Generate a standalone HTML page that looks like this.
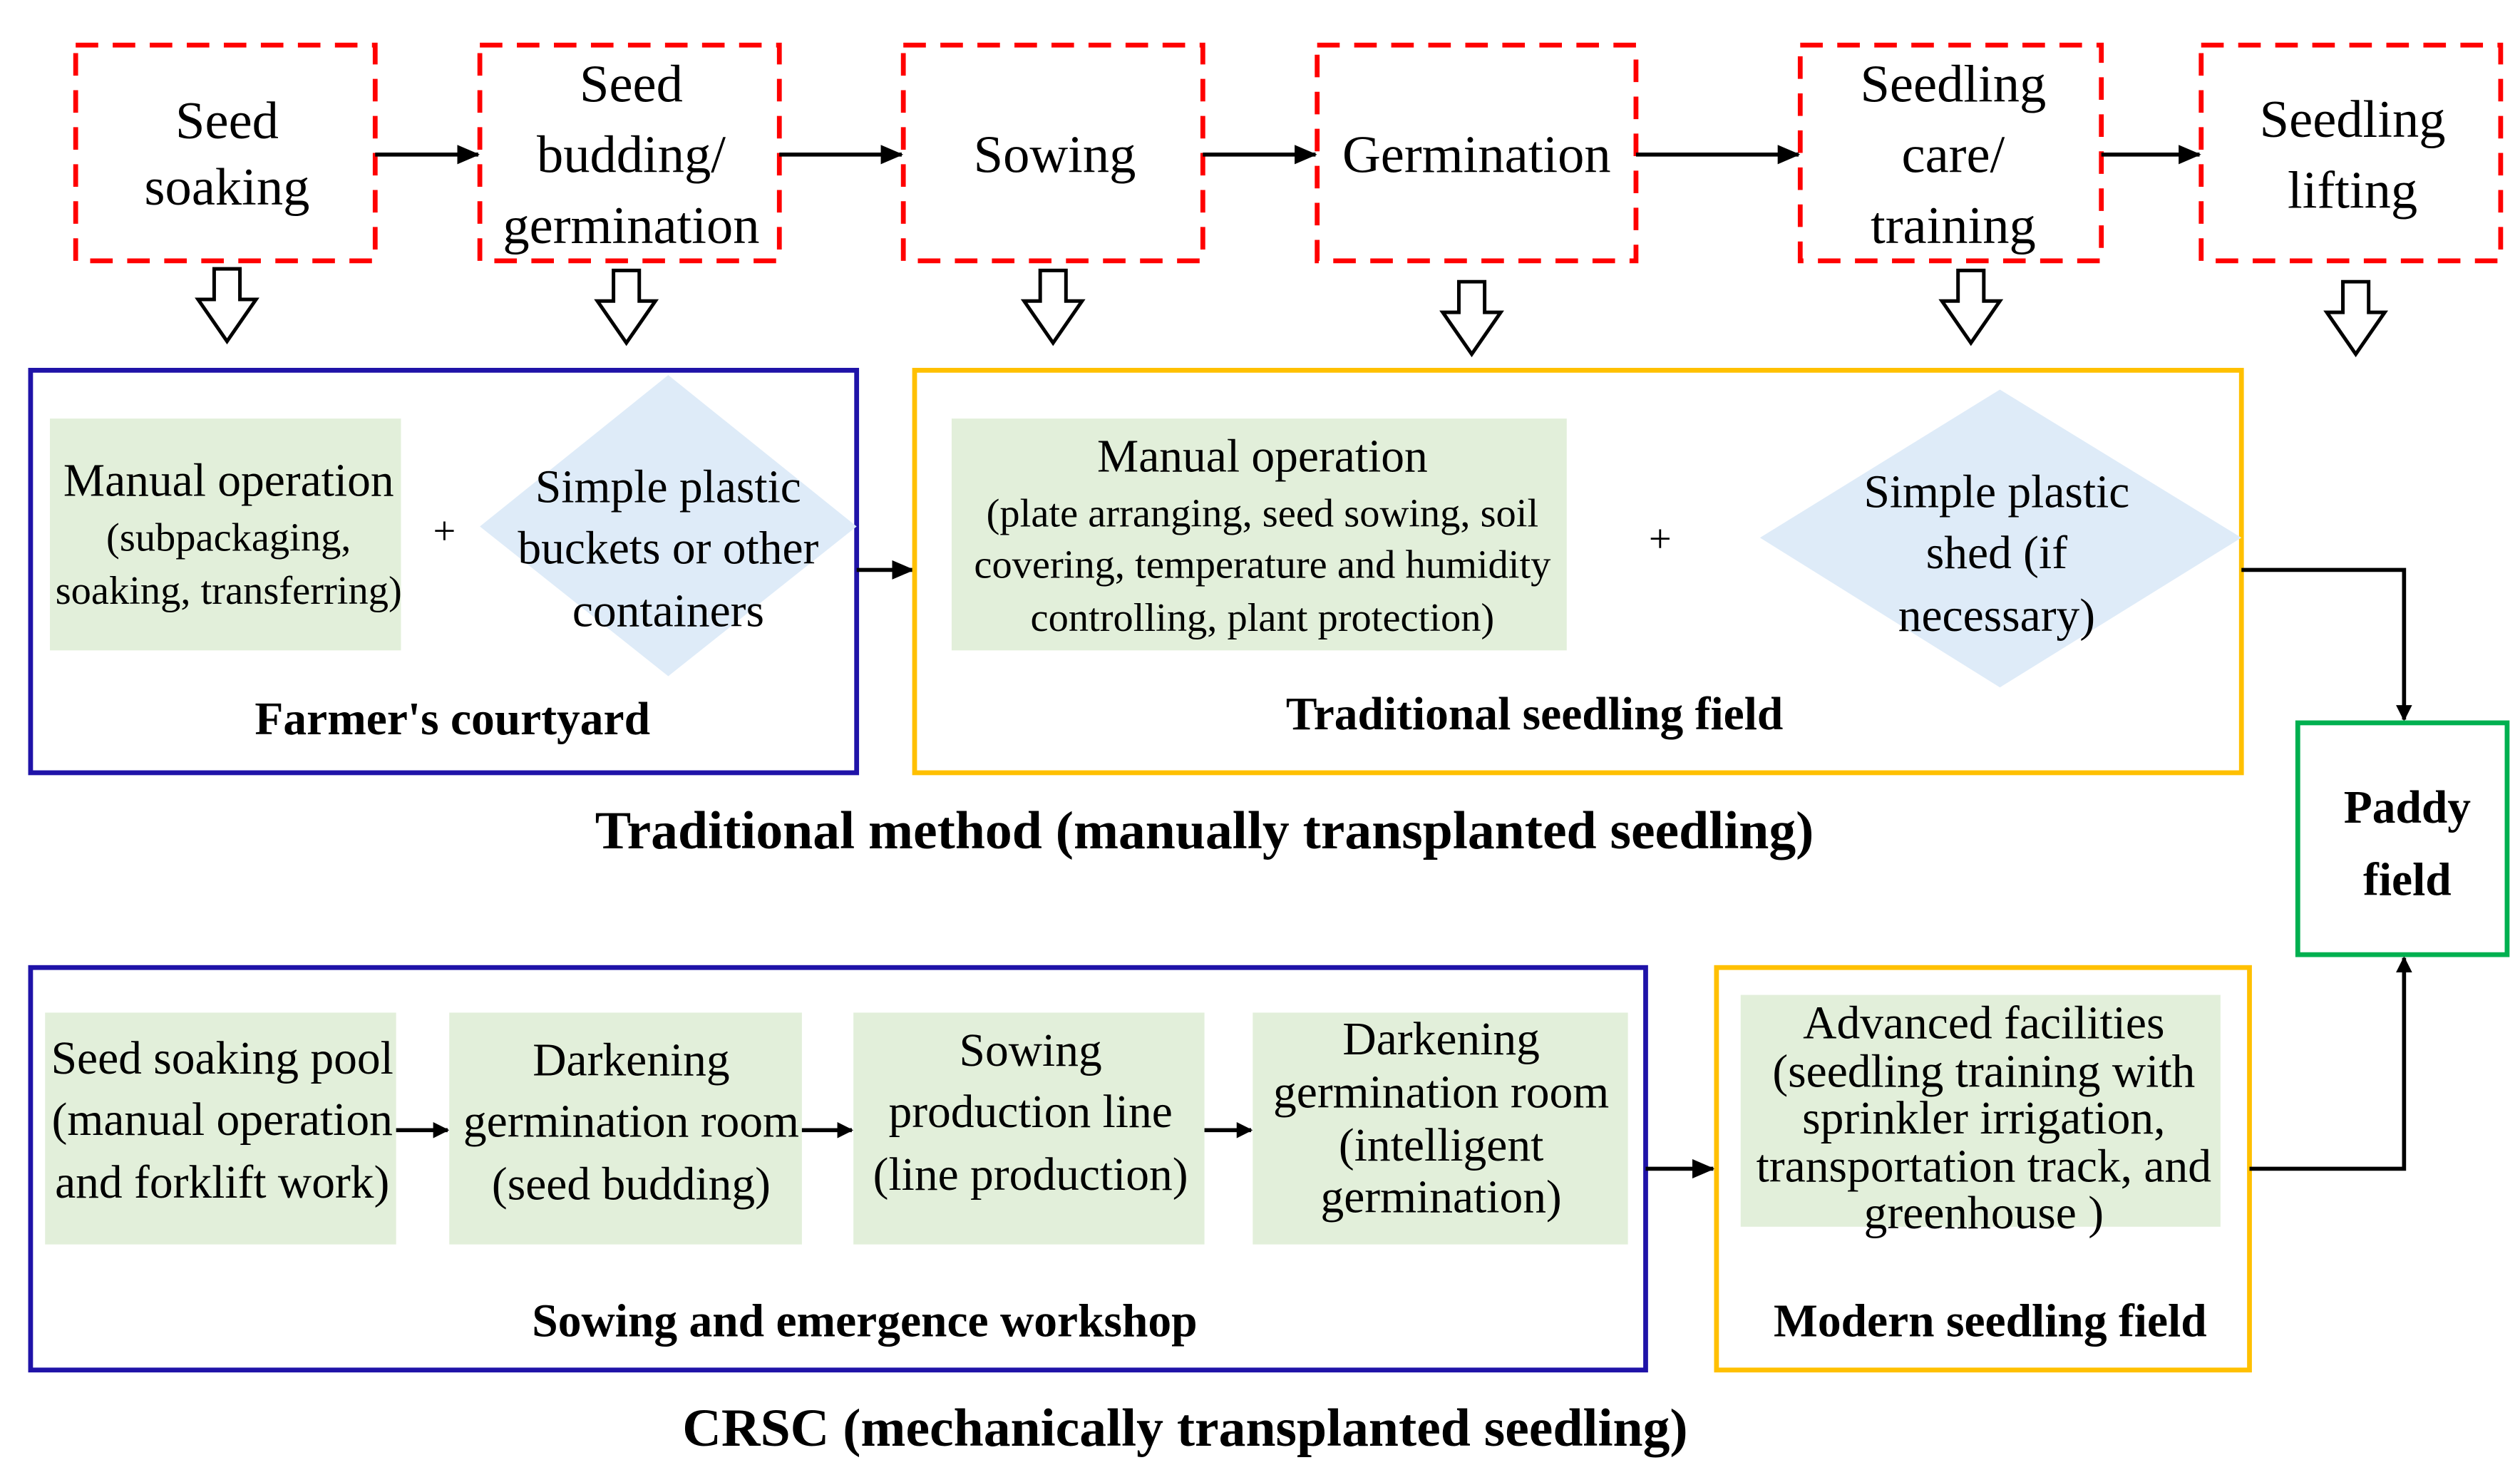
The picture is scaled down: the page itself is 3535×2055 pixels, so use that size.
<!DOCTYPE html>
<html><head><meta charset="utf-8"><style>
html,body{margin:0;padding:0;background:#fff;}
svg{display:block;}
svg text{font-family:"Liberation Serif","Times New Roman",Times,serif;fill:#000;}
.s{font-size:33px;text-anchor:middle;}
.m{font-size:29px;text-anchor:middle;}
.sm{font-size:25px;text-anchor:middle;}
.b{font-weight:bold;font-size:29px;text-anchor:middle;}
.t{font-weight:bold;font-size:33.5px;text-anchor:middle;}
</style></head><body>
<svg width="3535" height="2055" viewBox="0 0 1565 910" preserveAspectRatio="none" xmlns="http://www.w3.org/2000/svg">
<defs>
<marker id="a" markerWidth="10" markerHeight="10" refX="9" refY="5" orient="auto" markerUnits="userSpaceOnUse"><path d="M0,0 L10,5 L0,10 z" fill="#000"/></marker>
<marker id="a2" markerWidth="14" markerHeight="12" refX="13" refY="6" orient="auto" markerUnits="userSpaceOnUse"><path d="M0,0 L14,6 L0,12 z" fill="#000"/></marker>
</defs>
<g fill="none" stroke="#ff0000" stroke-width="3" stroke-dasharray="14,9">
<rect x="47" y="28" width="186" height="134"/>
<rect x="298" y="28" width="186" height="134"/>
<rect x="561" y="28" width="186" height="134"/>
<rect x="818" y="28" width="198" height="134"/>
<rect x="1118" y="28" width="187" height="134"/>
<rect x="1367" y="28" width="186" height="134"/>
</g>
<text class="s" x="141" y="86">Seed</text><text class="s" x="141" y="127">soaking</text>
<text class="s" x="392" y="63">Seed</text><text class="s" x="392" y="107">budding/</text><text class="s" x="392" y="151">germination</text>
<text class="s" x="655" y="107">Sowing</text>
<text class="s" x="917" y="107">Germination</text>
<text class="s" x="1213" y="63">Seedling</text><text class="s" x="1213" y="107">care/</text><text class="s" x="1213" y="151">training</text>
<text class="s" x="1461" y="85">Seedling</text><text class="s" x="1461" y="129">lifting</text>
<g stroke="#000" stroke-width="2.5" fill="none">
<line x1="233" y1="96" x2="297" y2="96" marker-end="url(#a2)"/>
<line x1="484" y1="96" x2="560" y2="96" marker-end="url(#a2)"/>
<line x1="747" y1="96" x2="817" y2="96" marker-end="url(#a2)"/>
<line x1="1016" y1="96" x2="1117" y2="96" marker-end="url(#a2)"/>
<line x1="1305" y1="96" x2="1366" y2="96" marker-end="url(#a2)"/>
</g>
<g fill="#fff" stroke="#000" stroke-width="2.2">
<path d="M133,188 h16 v19 h10 l-18,26 l-18,-26 h10 z" transform="translate(0,-21)"/>
<path d="M381,181 h16 v19 h10 l-18,26 l-18,-26 h10 z" transform="translate(0,-13)"/>
<path d="M646,181 h16 v19 h10 l-18,26 l-18,-26 h10 z" transform="translate(0,-13)"/>
<path d="M906,188 h16 v19 h10 l-18,26 l-18,-26 h10 z" transform="translate(0,-13)"/>
<path d="M1216,181 h16 v19 h10 l-18,26 l-18,-26 h10 z" transform="translate(0,-13)"/>
<path d="M1455,188 h16 v19 h10 l-18,26 l-18,-26 h10 z" transform="translate(0,-13)"/>
</g>
<rect x="19" y="230" width="513" height="250" fill="none" stroke="#1f13a8" stroke-width="3"/>
<rect x="31" y="260" width="218" height="144" fill="#e2efda"/>
<text class="m" x="142" y="308">Manual operation</text>
<text class="sm" x="142" y="342">(subpackaging,</text>
<text class="sm" x="142" y="375">soaking, transferring)</text>
<text class="sm" x="276" y="338">+</text>
<path d="M415,233 L532,327 L415,420 L298,327 z" fill="#deebf8"/>
<text class="m" x="415" y="312">Simple plastic</text>
<text class="m" x="415" y="350">buckets or other</text>
<text class="m" x="415" y="389">containers</text>
<text class="b" x="281" y="456">Farmer's courtyard</text>
<line x1="532" y1="354" x2="567" y2="354" stroke="#000" stroke-width="2.5" marker-end="url(#a2)"/>
<rect x="568" y="230" width="824" height="250" fill="none" stroke="#ffc000" stroke-width="3"/>
<rect x="591" y="260" width="382" height="144" fill="#e2efda"/>
<text class="m" x="784" y="293">Manual operation</text>
<text class="sm" x="784" y="327">(plate arranging, seed sowing, soil</text>
<text class="sm" x="784" y="359">covering, temperature and humidity</text>
<text class="sm" x="784" y="392">controlling, plant protection)</text>
<text class="sm" x="1031" y="343">+</text>
<path d="M1242,242 L1392,334 L1242,427 L1093,334 z" fill="#deebf8"/>
<text class="m" x="1240" y="315">Simple plastic</text>
<text class="m" x="1240" y="353">shed (if</text>
<text class="m" x="1240" y="392">necessary)</text>
<text class="b" x="953" y="453">Traditional seedling field</text>
<path d="M1392,354 H1493 V447" fill="none" stroke="#000" stroke-width="2.5" marker-end="url(#a)"/>
<rect x="1427" y="449" width="130" height="144" fill="none" stroke="#00b050" stroke-width="3"/>
<text class="b" x="1495" y="511">Paddy</text>
<text class="b" x="1495" y="556">field</text>
<text class="t" x="748" y="527">Traditional method (manually transplanted seedling)</text>
<rect x="19" y="601" width="1003" height="250" fill="none" stroke="#1f13a8" stroke-width="3"/>
<rect x="28" y="629" width="218" height="144" fill="#e2efda"/>
<rect x="279" y="629" width="219" height="144" fill="#e2efda"/>
<rect x="530" y="629" width="218" height="144" fill="#e2efda"/>
<rect x="778" y="629" width="233" height="144" fill="#e2efda"/>
<text class="m" x="138" y="667">Seed soaking pool</text>
<text class="m" x="138" y="705">(manual operation</text>
<text class="m" x="138" y="744">and forklift work)</text>
<text class="m" x="392" y="668">Darkening</text>
<text class="m" x="392" y="706">germination room</text>
<text class="m" x="392" y="745">(seed budding)</text>
<text class="m" x="640" y="662">Sowing</text>
<text class="m" x="640" y="700">production line</text>
<text class="m" x="640" y="739">(line production)</text>
<text class="m" x="895" y="655">Darkening</text>
<text class="m" x="895" y="688">germination room</text>
<text class="m" x="895" y="721">(intelligent</text>
<text class="m" x="895" y="753">germination)</text>
<g stroke="#000" stroke-width="2.5">
<line x1="246" y1="702" x2="278" y2="702" marker-end="url(#a)"/>
<line x1="498" y1="702" x2="529" y2="702" marker-end="url(#a)"/>
<line x1="748" y1="702" x2="777" y2="702" marker-end="url(#a)"/>
<line x1="1022" y1="726" x2="1064" y2="726" marker-end="url(#a2)"/>
</g>
<text class="b" x="537" y="830">Sowing and emergence workshop</text>
<rect x="1066" y="601" width="331" height="250" fill="none" stroke="#ffc000" stroke-width="3"/>
<rect x="1081" y="618" width="298" height="144" fill="#e2efda"/>
<text class="m" x="1232" y="645">Advanced facilities</text>
<text class="m" x="1232" y="675">(seedling training with</text>
<text class="m" x="1232" y="704">sprinkler irrigation,</text>
<text class="m" x="1232" y="734">transportation track, and</text>
<text class="m" x="1232" y="763">greenhouse )</text>
<text class="b" x="1236" y="830">Modern seedling field</text>
<path d="M1397,726 H1493 V595" fill="none" stroke="#000" stroke-width="2.5" marker-end="url(#a)"/>
<text class="t" x="736" y="898">CRSC (mechanically transplanted seedling)</text>
</svg>
</body></html>
